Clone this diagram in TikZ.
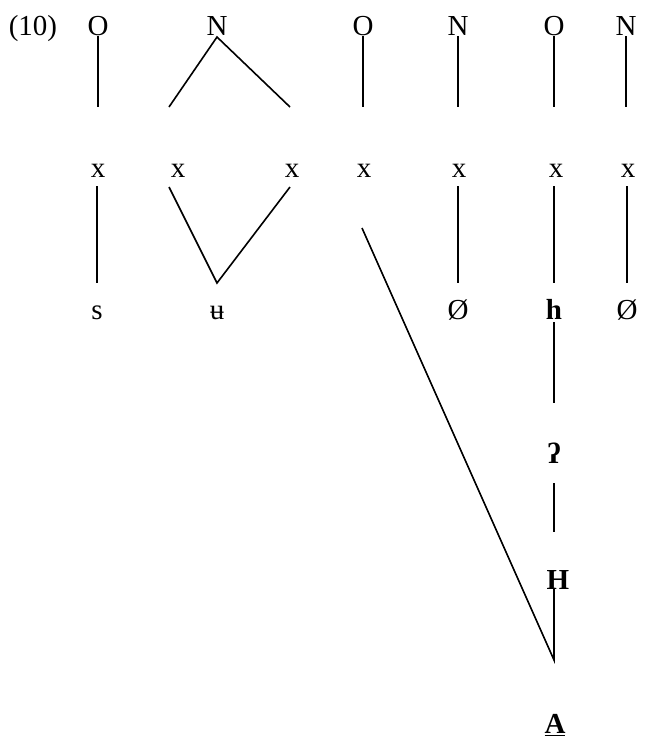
\documentclass[tikz,border=0pt]{standalone}
\usepackage{fontspec}
\setmainfont{Liberation Serif}
\begin{document}
\begin{tikzpicture}%
	[x=0.5pt,
	y=-0.5pt,
	label/.style={inner sep=0pt, anchor=base, font=\fontsize{14.5}{17}\selectfont},
	seg/.style={label},
	assoc/.style={line width=0.8pt},
	upper/.style={assoc, shorten <=0.5pt, shorten >=35pt},
	lower/.style={assoc, shorten <=4.5pt, shorten >=18pt}]
%
%% Bounding box of the figure
\useasboundingbox (0,0) rectangle (647,740);
%%
%% Prosodic tier
%%
\node[label] (num) at (33,35) {(10)};
\node[label] (O1) at (98,35) {O};
\node[label] (N1) at (217,35) {N};
\node[label] (O2) at (363,35) {O};
\node[label] (N2) at (458,35) {N};
\node[label] (O3) at (554,35) {O};
\node[label] (N3) at (626,35) {N};
%%
%% Skeletal tier
%%
\node[label] (x1) at (98,177) {x};
\node[label] (x2) at (178,177) {x};
\node[label] (x3) at (292,177) {x};
\node[label] (x4) at (364,177) {x};
\node[label] (x5) at (459,177) {x};
\node[label] (x6) at (556,177) {x};
\node[label] (x7) at (628,177) {x};
%%
%% Segmental tier
%%
\node[seg] (s1) at (97,319) {s};
\node[seg] (s2) at (217,319) {ʉ};
\node[seg] (s5) at (458,319) {Ø};
\node[seg] (s6) at (554,319) {\textbf{h}};
\node[seg] (s7) at (627,319) {Ø};
\node[seg] (gs) at (554,463) {\textbf{ʔ}};
\node[seg] (H) at (558,589) {\textbf{H}};
\node[seg] (A) at (555,733) {\textbf{\underline{A}}};
%%
%% Branch points
%%
\coordinate (N1left) at (169,107);
\coordinate (N1right) at (290,107);
\coordinate (x2foot) at (169,187);
\coordinate (x3foot) at (290,187);
\coordinate (s2top) at (217,283);
\coordinate (x4foot) at (362,228);
\coordinate (Afoot) at (554,660);
%%
%% Drawing the association lines
%%
\draw[upper] (O1.base) -- (O1.base |- x1.base);
\draw[assoc] (N1left) -- ([yshift=-1]N1.base) -- (N1right);
\draw[upper] (O2.base) -- (O2.base |- x4.base);
\draw[upper] (N2.base) -- (N2.base |- x5.base);
\draw[upper] (O3.base) -- (O3.base |- x6.base);
\draw[upper] (N3.base) -- (N3.base |- x7.base);
%%
\draw[lower] (s1.base |- x1.base) -- (s1.base);
\draw[assoc] (x2foot) -- (s2top) -- (x3foot);
\draw[lower] (s5.base |- x5.base) -- (s5.base);
\draw[lower] (s6.base |- x6.base) -- (s6.base);
\draw[lower] (s7.base |- x7.base) -- (s7.base);
%%
\draw[assoc, shorten <=1.5pt, shorten >=30pt] (s6.base) -- (gs.base);
\draw[assoc, shorten <=10pt, shorten >=28.5pt] (gs.base) -- (gs.base |- H.base);
\draw[assoc] (gs.base |- H.base) -- (Afoot) -- (x4foot);
%%
\end{tikzpicture}
\end{document}
